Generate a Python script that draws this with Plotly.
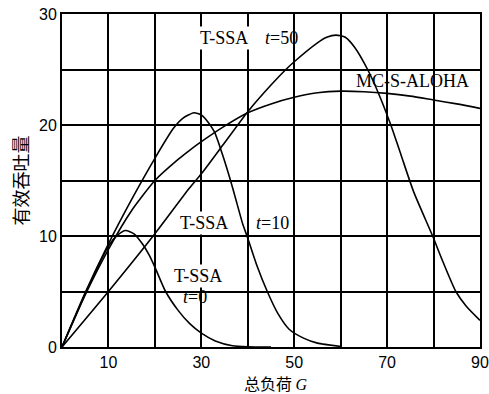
import plotly.graph_objects as go

# T-SSA t=0
g_t0 = [0, 5, 10, 12, 13.7, 15.5, 17.3, 18.75, 20, 22.3, 25, 27.5, 30, 33, 36.7, 40, 45]
s_t0 = [0, 4.8, 9.1, 10.1, 10.5, 10.2, 9.3, 8.3, 7.2, 5.0, 3.3, 2.1, 1.25, 0.55, 0.12, 0.02, 0]

# T-SSA t=10
g_t10 = [0, 5, 10, 15, 20, 24, 26, 28.4, 30, 31, 32.8, 34.5, 36.7, 38.9, 40, 42, 44.2, 46.5, 48.9, 52, 55, 60]
s_t10 = [0, 4.9, 9.3, 13.3, 17.0, 19.7, 20.6, 21.1, 20.9, 20.5, 19.4, 17.4, 14.4, 11.1, 9.8, 7.3, 5.0, 3.0, 1.6, 0.8, 0.35, 0.05]

# T-SSA t=50
g_t50 = [0, 10, 20, 27.4, 30, 35, 40, 45, 48.2, 50, 55, 57, 59, 61, 63, 65.8, 68, 70.8, 73, 75.7, 79.8, 82, 84.8, 87, 90]
s_t50 = [0, 5.0, 10.2, 14.3, 15.6, 18.4, 21.2, 23.6, 25.0, 25.7, 27.4, 27.9, 28.1, 27.9, 27.0, 25.0, 23.0, 20.0, 17.3, 14.0, 10.0, 7.7, 5.0, 3.7, 2.4]

# MC-S-ALOHA
g_mc = [0, 5, 10, 15, 20, 25, 27.4, 30, 35, 40, 45, 50, 55, 60, 65, 70, 75, 80, 85, 90]
s_mc = [0, 4.7, 8.8, 12.3, 15.0, 16.9, 17.7, 18.5, 19.9, 21.1, 21.9, 22.5, 22.9, 23.05, 23.0, 22.85, 22.6, 22.25, 21.9, 21.5]

x_tickvals = [0, 10, 20, 30, 40, 50, 60, 70, 80, 90]
x_ticktext = ["", "10", "", "30", "", "50", "", "70", "", "90"]
y_tickvals = [0, 5, 10, 15, 20, 25, 30]
y_ticktext = ["0", "", "10", "", "20", "", "30"]

fig = go.Figure()
for gx, sy in [(g_t0, s_t0), (g_t10, s_t10), (g_t50, s_t50), (g_mc, s_mc)]:
    fig.add_trace(go.Scatter(x=gx, y=sy, mode="lines",
                             line=dict(color="black", width=1.6, shape="spline", smoothing=0.6),
                             showlegend=False, hoverinfo="skip"))

serif = "Liberation Serif, Times New Roman, serif"
lab = dict(showarrow=False, font=dict(family=serif, size=18, color="black"), xref="x", yref="y")

annots = [
    dict(x=34.8, y=27.8, text="T-SSA", bgcolor="white", **lab),
    dict(x=47.3, y=27.8, text="<i>t</i>=50", **lab),
    dict(x=75.4, y=24.0, text="MC-S-ALOHA", **lab),
    dict(x=30.5, y=11.2, text="T-SSA", bgcolor="white", **lab),
    dict(x=45.3, y=11.2, text="<i>t</i>=10", **lab),
    dict(x=29.3, y=6.4, text="T-SSA", bgcolor="white", **lab),
    dict(x=28.7, y=4.5, text="<i>t</i>=0", **lab),
]
for a in annots:
    fig.add_annotation(**a)

# x-axis title as a paper-positioned annotation
fig.add_annotation(x=0.512, y=-0.108, xref="paper", yref="paper", showarrow=False,
                   xanchor="center", yanchor="middle",
                   text="总负荷 <i><span style='font-family:Liberation Serif'>G</span></i>",
                   font=dict(family="Noto Sans CJK SC", size=16, color="black"))

axis_common = dict(showgrid=True, gridcolor="black", gridwidth=2, showline=True, linecolor="black",
                   linewidth=2, mirror=True, zeroline=False, ticks="", automargin=False,
                   ticklabeloverflow="allow",
                   tickfont=dict(family="Liberation Sans, Arial, sans-serif", size=16, color="black"))

fig.update_layout(
    width=489, height=394,
    margin=dict(l=62, r=9, t=14, b=47),
    paper_bgcolor="white", plot_bgcolor="white",
    xaxis=dict(range=[0, 90], tickvals=x_tickvals, ticktext=x_ticktext, **axis_common),
    yaxis=dict(range=[0, 30], tickvals=y_tickvals, ticktext=y_ticktext,
               title=dict(text="有效吞吐量", font=dict(family="Noto Sans CJK SC", size=18, color="black"), standoff=6),
               **axis_common),
)

fig.write_html("out.html")
